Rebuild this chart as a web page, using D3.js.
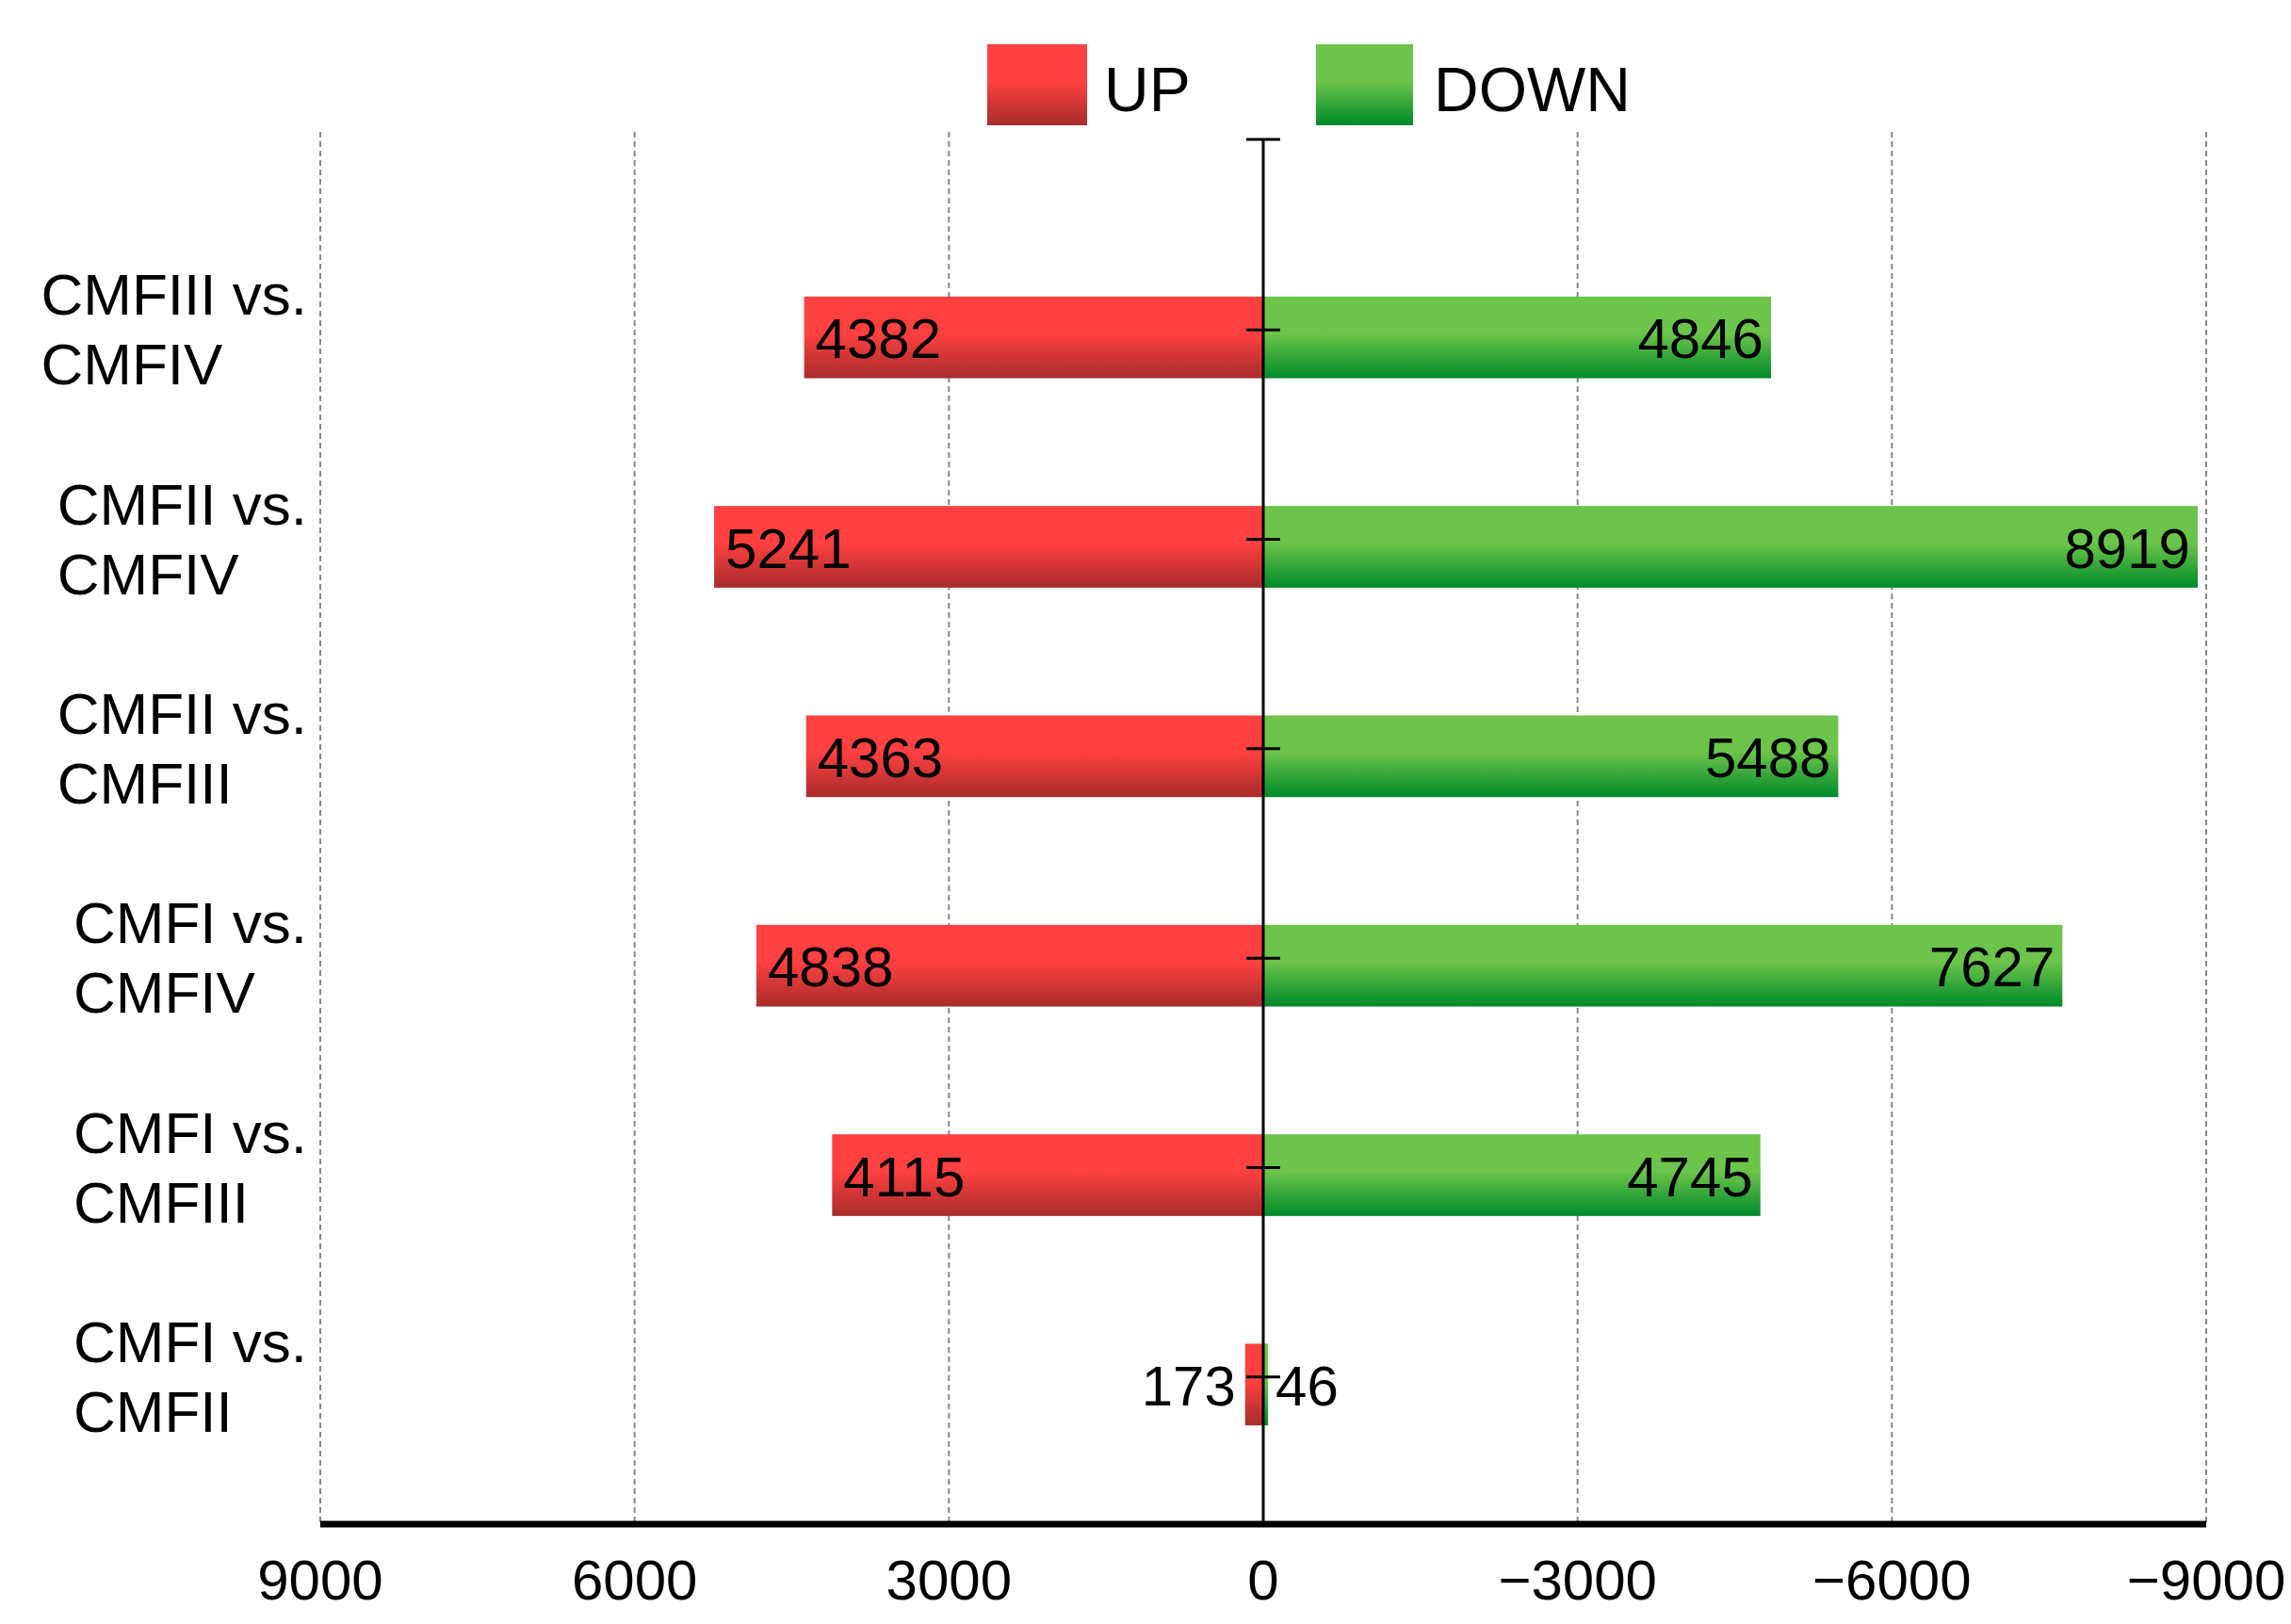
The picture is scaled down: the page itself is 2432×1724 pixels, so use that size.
<!DOCTYPE html>
<html><head><meta charset="utf-8">
<script src="https://cdn.jsdelivr.net/npm/d3@7"></script>
<style>body{margin:0;background:#fff}text{font-family:"Liberation Sans",Arial,sans-serif}</style>
</head><body><svg id="c" width="2432" height="1724"></svg>
<script>
const categories=[["CMFIII vs.","CMFIV"],["CMFII vs.","CMFIV"],["CMFII vs.","CMFIII"],["CMFI vs.","CMFIV"],["CMFI vs.","CMFIII"],["CMFI vs.","CMFII"]];
const upValues=[4382,5241,4363,4838,4115,173];
const downValues=[4846,8919,5488,7627,4745,46];
const tickValues=[9000,6000,3000,0,-3000,-6000,-9000];
const tickLabels=["9000","6000","3000","0","\u22123000","\u22126000","\u22129000"];

const svg=d3.select("#c");
const x=d3.scaleLinear().domain([9000,-9000]).range([340,2342]);
const y=d3.scaleBand().domain(d3.range(categories.length)).range([247,1581]).paddingInner(0.61).paddingOuter(0.305);
const plotTop=148,plotBottom=1618;
const defs=svg.append("defs");
function grad(id,c1,c2){const g=defs.append("linearGradient").attr("id",id).attr("x1",0).attr("y1",0).attr("x2",0).attr("y2",1);
 g.append("stop").attr("offset","0%").attr("stop-color",c1);g.append("stop").attr("offset","45%").attr("stop-color",c1);g.append("stop").attr("offset","100%").attr("stop-color",c2);}
grad("gr","#ff4040","#a82c2c");grad("gg","#6cc54a","#008a2a");

svg.selectAll(".grid").data(tickValues.filter(v=>v!==0)).join("line")
 .attr("x1",d=>x(d)).attr("x2",d=>x(d)).attr("y1",140).attr("y2",plotBottom)
 .attr("stroke","#888").attr("stroke-width",2).attr("stroke-dasharray","6,4");

const bh=y.bandwidth();
svg.selectAll(".up").data(upValues).join("rect").attr("x",d=>x(d)).attr("width",d=>x(0)-x(d))
 .attr("y",(d,i)=>y(i)).attr("height",bh).attr("fill","url(#gr)");
svg.selectAll(".dn").data(downValues).join("rect").attr("x",x(0)).attr("width",d=>x(-d)-x(0))
 .attr("y",(d,i)=>y(i)).attr("height",bh).attr("fill","url(#gg)");

svg.append("line").attr("x1",x(0)).attr("x2",x(0)).attr("y1",plotTop).attr("y2",plotBottom).attr("stroke","#000").attr("stroke-width",3);
svg.append("line").attr("x1",x(0)-18).attr("x2",x(0)+18).attr("y1",plotTop).attr("y2",plotTop).attr("stroke","#000").attr("stroke-width",3);
svg.selectAll(".ct").data(categories).join("line").attr("x1",x(0)-18).attr("x2",x(0)+18)
 .attr("y1",(d,i)=>y(i)+bh/2-8).attr("y2",(d,i)=>y(i)+bh/2-8).attr("stroke","#000").attr("stroke-width",3);

const fs=60;
svg.selectAll(".ul").data(upValues).join("text").attr("font-size",fs)
 .attr("x",d=>d<1000?x(d)-10:x(d)+12).attr("text-anchor",d=>d<1000?"end":"start")
 .attr("y",(d,i)=>y(i)+bh/2+22).text(d=>d);
svg.selectAll(".dl").data(downValues).join("text").attr("font-size",fs)
 .attr("x",d=>d<1000?x(-d)+8:x(-d)-8).attr("text-anchor",d=>d<1000?"start":"end")
 .attr("y",(d,i)=>y(i)+bh/2+22).text(d=>d);

categories.forEach((c,i)=>{
 const cy=y(i)+bh/2;
 const t1=svg.append("text").attr("font-size",62).attr("y",cy-24).text(c[0]);
 const w=t1.node().getComputedTextLength();
 const sx=326-w;
 t1.attr("x",sx);
 svg.append("text").attr("font-size",62).attr("x",sx).attr("y",cy+50).text(c[1]);
});

svg.append("line").attr("x1",x(9000)).attr("x2",x(-9000)).attr("y1",plotBottom).attr("y2",plotBottom).attr("stroke","#000").attr("stroke-width",7);
svg.selectAll(".tl").data(tickValues).join("text").attr("font-size",60).attr("text-anchor","middle")
 .attr("x",d=>x(d)).attr("y",1698).text((d,i)=>tickLabels[i]);

svg.append("rect").attr("x",1048).attr("y",47).attr("width",106).attr("height",86).attr("fill","url(#gr)");
svg.append("text").attr("x",1172).attr("y",118).attr("font-size",66).text("UP");
svg.append("rect").attr("x",1397).attr("y",47).attr("width",103).attr("height",86).attr("fill","url(#gg)");
svg.append("text").attr("x",1522).attr("y",118).attr("font-size",66).text("DOWN");
</script></body></html>
